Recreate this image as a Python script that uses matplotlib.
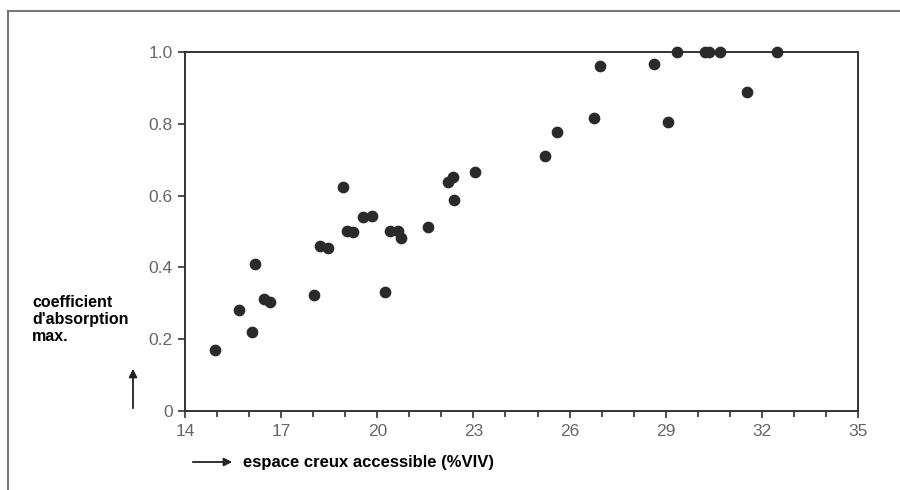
import matplotlib
matplotlib.use("Agg")
import matplotlib.pyplot as plt
from matplotlib.lines import Line2D

plt.rcParams['font.family'] = ['Liberation Sans', 'DejaVu Sans']

# espace creux accessible (%VIV) vs coefficient d'absorption max.
vides = [14.94, 15.68, 16.10, 16.18, 16.47, 16.65, 18.03, 18.21, 18.47, 18.92,
         19.05, 19.23, 19.54, 19.82, 20.24, 20.40, 20.64, 20.73, 21.57, 22.20,
         22.35, 22.40, 23.05, 25.23, 25.60, 26.77, 26.95, 28.64, 29.08, 29.34,
         30.22, 30.34, 30.69, 31.53, 32.46]
coeff = [0.170, 0.281, 0.221, 0.409, 0.312, 0.305, 0.323, 0.459, 0.455, 0.623,
         0.501, 0.499, 0.541, 0.544, 0.331, 0.502, 0.501, 0.481, 0.513, 0.639,
         0.651, 0.588, 0.667, 0.711, 0.778, 0.815, 0.961, 0.967, 0.806, 1.0,
         1.0, 1.0, 1.0, 0.888, 1.0]

x_ticks = [14, 17, 20, 23, 26, 29, 32, 35]
y_ticks = [0, 0.2, 0.4, 0.6, 0.8, 1.0]
y_labels = ['0', '0.2', '0.4', '0.6', '0.8', '1.0']

fig = plt.figure(figsize=(9, 4.9), dpi=100)
ax = fig.add_axes([185 / 900, 1 - 411 / 490, (858 - 185) / 900, (411 - 52) / 490])

ax.scatter(vides, coeff, s=55, color='#2a2a2a', zorder=3, clip_on=False)

ax.set_xlim(14, 35)
ax.set_ylim(0, 1.0)
ax.set_xticks(x_ticks)
ax.set_xticks(range(14, 36), minor=True)
ax.set_yticks(y_ticks)
ax.set_yticklabels(y_labels)

for s in ax.spines.values():
    s.set_color('#333333')
    s.set_linewidth(1.4)
ax.tick_params(axis='both', which='both', direction='out', color='#333333', width=1.2,
               labelcolor='#666666', labelsize=12.5)
ax.tick_params(axis='both', which='major', length=5, pad=4)
ax.tick_params(axis='x', which='minor', length=4)

# axis titles with arrows
fig.text(32 / 900, 1 - 295 / 490, "coefficient\nd'absorption\nmax.", fontsize=11.5,
         fontweight='bold', va='top', ha='left', linespacing=1.15)
fig.text(243 / 900, 1 - 462 / 490, "espace creux accessible (%VIV)", fontsize=12,
         fontweight='bold', va='center', ha='left')
ax.annotate('', xy=(133 / 900, 1 - 366 / 490), xytext=(133 / 900, 1 - 411 / 490),
            xycoords='figure fraction', textcoords='figure fraction',
            arrowprops=dict(arrowstyle='-|>', color='#222222', lw=1.3, mutation_scale=12))
ax.annotate('', xy=(235 / 900, 1 - 462 / 490), xytext=(190 / 900, 1 - 462 / 490),
            xycoords='figure fraction', textcoords='figure fraction',
            arrowprops=dict(arrowstyle='-|>', color='#222222', lw=1.3, mutation_scale=12))

# outer frame of the scanned figure
fig.add_artist(Line2D([8 / 900, 8 / 900], [0, 1 - 11 / 490], transform=fig.transFigure,
                      color='#777777', lw=1.5))
fig.add_artist(Line2D([8 / 900, 1], [1 - 11 / 490, 1 - 11 / 490], transform=fig.transFigure,
                      color='#777777', lw=1.5))

fig.savefig('out.png', dpi=100)
